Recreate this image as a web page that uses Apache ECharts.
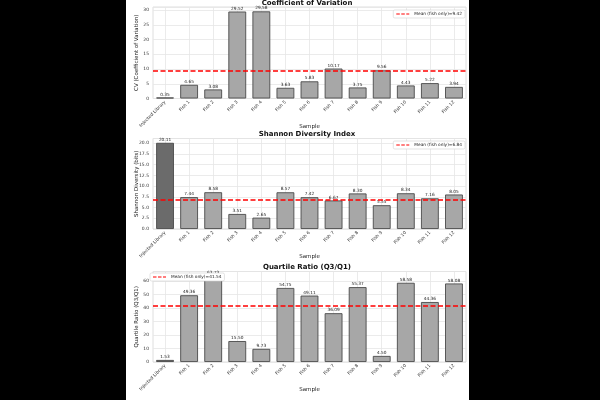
<!DOCTYPE html>
<html>
<head>
<meta charset="utf-8">
<script src="https://cdn.jsdelivr.net/npm/echarts@6/dist/echarts.min.js"></script>
<style>
  html, body { margin: 0; padding: 0; background: #000; }
  #chart { position: absolute; left: 126px; top: 0; width: 343px; height: 400px; }
</style>
</head>
<body>
<div id="chart"></div>
<script>
const categories = ['Injected Library', 'Fish 1', 'Fish 2', 'Fish 3', 'Fish 4', 'Fish 5', 'Fish 6',
  'Fish 7', 'Fish 8', 'Fish 9', 'Fish 10', 'Fish 11', 'Fish 12']
const cvValues = [0.35, 4.65, 3.08, 29.52, 29.58, 3.63, 5.83, 10.17, 3.75, 9.56, 4.43, 5.22, 3.94]
const shannonValues = [20.11, 7.44, 8.58, 3.51, 2.65, 8.57, 7.42, 6.67, 8.30, 5.55, 8.34, 7.16, 8.05]
const quartileValues = [1.53, 49.36, 63.73, 15.50, 9.73, 54.75, 49.11, 36.09, 55.37, 4.50, 58.58, 44.36, 58.08]
const meanValues = [9.42, 6.84, 41.54]
const titles = ['Coefficient of Variation', 'Shannon Diversity Index', 'Quartile Ratio (Q3/Q1)']
const yNames = ['CV (Coefficient of Variation)', 'Shannon Diversity (bits)', 'Quartile Ratio (Q3/Q1)']
const yTicksStep = [5, 2.5, 10]

const panels = [cvValues, shannonValues, quartileValues]
// plot box of each panel (px, inside the white area)
const boxes = [
  {top: 7, height: 91.5, titleTop: 0, legend: {right: 4, top: 10}},
  {top: 138.5, height: 90.5, titleTop: 131, legend: {right: 4, top: 141}},
  {top: 271.5, height: 90.5, titleTop: 263.5, legend: {left: 24, top: 273}}
]
// dashed red sample for the legend
const dashIcon = 'path://M0,0h3.5v1h-3.5z M5,0h3.5v1h-3.5z M10,0h3v1h-3z'
const red = '#ff0000'

let chart = echarts.init(document.getElementById('chart'))

let option = {
  backgroundColor: '#fff',
  animation: false,
  title: [], grid: [], xAxis: [], yAxis: [], legend: [], series: []
}

panels.forEach((vals, k) => {
  const box = boxes[k]
  const legendName = 'Mean (fish only)=' + meanValues[k].toFixed(2)
  option.title.push({
    text: titles[k], left: 181, top: box.titleTop, textAlign: 'center', padding: 0,
    textStyle: {fontFamily: 'DejaVu Sans', fontSize: 7, fontWeight: 'bold', color: '#111'}
  })
  option.grid.push({
    left: 22, right: 3, top: box.top, height: box.height,
    show: true, borderColor: '#d6d6d6', borderWidth: 0.8, backgroundColor: '#fff'
  })
  option.xAxis.push({
    type: 'category', gridIndex: k, data: categories,
    name: 'Sample', nameLocation: 'middle', nameGap: 25, nameMoveOverlap: false,
    nameTextStyle: {fontFamily: 'DejaVu Sans', fontSize: 5.5, color: '#222'},
    axisLine: {show: false}, axisTick: {show: false},
    splitLine: {show: true, alignWithLabel: true, lineStyle: {color: '#e6e6e6', width: 0.8}},
    axisLabel: {rotate: 45, fontSize: 4.5, fontFamily: 'DejaVu Sans', color: '#333', margin: 3, interval: 0}
  })
  const maxV = Math.max(...vals) * 1.05
  option.yAxis.push({
    type: 'value', gridIndex: k, min: 0, max: maxV, interval: yTicksStep[k],
    name: yNames[k], nameLocation: 'middle', nameGap: 13, nameMoveOverlap: false,
    nameTextStyle: {fontFamily: 'DejaVu Sans', fontSize: 5.5, color: '#222'},
    axisLine: {show: false}, axisTick: {show: false},
    splitLine: {lineStyle: {color: '#e6e6e6', width: 0.8}},
    axisLabel: {
      fontSize: 4.5, fontFamily: 'DejaVu Sans', color: '#333', margin: 4, showMaxLabel: false,
      formatter: v => k === 1 ? v.toFixed(1) : String(v)
    }
  })
  option.legend.push(Object.assign({
    data: [{name: legendName, icon: dashIcon, itemStyle: {color: red, borderWidth: 0, opacity: 1}}],
    orient: 'vertical',
    backgroundColor: '#fff', borderColor: '#d0d0d0', borderWidth: 0.6, borderRadius: 1.5,
    padding: [2, 3], itemWidth: 13, itemHeight: 2, itemGap: 2,
    itemStyle: {color: red, borderColor: red, borderWidth: 0},
    inactiveColor: red,
    textStyle: {fontSize: 4.3, fontFamily: 'DejaVu Sans', color: '#222'}
  }, box.legend))
  option.series.push({
    type: 'bar', xAxisIndex: k, yAxisIndex: k, data: vals,
    barWidth: '74%',
    itemStyle: {
      color: p => p.dataIndex === 0 ? '#6b6b6b' : '#a7a7a7',
      borderColor: '#4a4a4a', borderWidth: 0.9
    },
    label: {
      show: true, position: 'top', distance: 1, fontSize: 4.3, fontFamily: 'DejaVu Sans', color: '#222',
      formatter: p => p.value.toFixed(2)
    },
    markLine: {
      silent: true, symbol: ['none', 'none'], label: {show: false},
      lineStyle: {color: red, type: [5, 2.5], width: 1.6},
      data: [{yAxis: meanValues[k]}]
    }
  })
  option.series.push({
    type: 'line', name: legendName, xAxisIndex: k, yAxisIndex: k, data: [],
    symbol: 'none', color: red, itemStyle: {color: red},
    lineStyle: {color: red, type: [4, 2], width: 1.6}
  })
})

chart.setOption(option)
</script>
</body>
</html>
